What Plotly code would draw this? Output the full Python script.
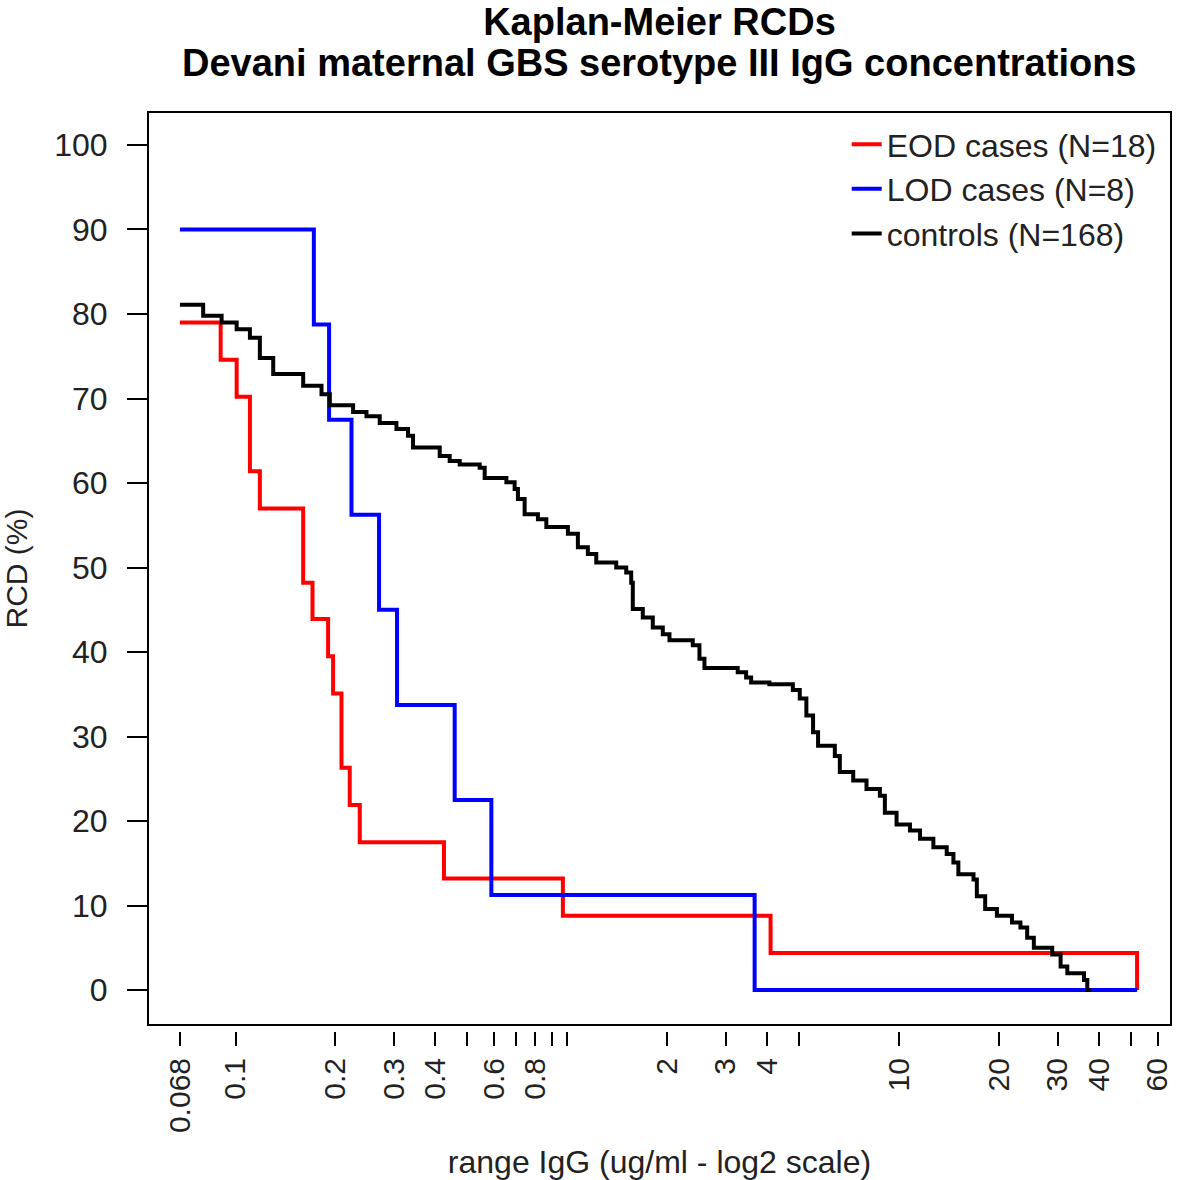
import plotly.graph_objects as go

# ---- data ----
eod_x = [0.068, 0.0902, 0.1008, 0.1105, 0.1184, 0.1599, 0.1706, 0.1901, 0.1968, 0.2086,
         0.2209, 0.2368, 0.4247, 0.9693, 4.095, 52.07]
eod_y = [79.0, 74.6, 70.2, 61.4, 57.0, 48.2, 43.9, 39.5, 35.1, 26.3,
         21.9, 17.5, 13.2, 8.8, 4.4, 0.0]

lod_x = [0.068, 0.1722, 0.1914, 0.2236, 0.2707, 0.3067, 0.4575, 0.5901, 3.666, 52.07]
lod_y = [90.0, 78.75, 67.5, 56.25, 45.0, 33.75, 22.5, 11.25, 0.0, 0.0]

ctrl_x = [0.068, 0.0799, 0.0908, 0.1008, 0.1105, 0.1184, 0.1299, 0.1599, 0.1816, 0.1924,
          0.2261, 0.2481, 0.2720, 0.3054, 0.3310, 0.3427, 0.4124, 0.4419, 0.4737, 0.5441,
          0.5634, 0.6549, 0.6935, 0.7096, 0.7433, 0.8152, 0.8641, 1.0035, 1.0755, 1.1527,
          1.2218, 1.4034, 1.5041, 1.5571, 1.5745, 1.6875, 1.8086, 1.9386, 2.0306, 2.3868,
          2.5000, 2.5883, 3.260, 3.456, 3.578, 4.061, 4.780, 5.014, 5.249, 5.499,
          5.693, 6.395, 6.621, 7.265, 7.967, 8.742, 9.050, 9.814, 10.77, 11.55,
          12.67, 13.90, 14.56, 15.07, 16.74, 17.13, 18.15, 19.69, 21.86, 23.18,
          24.29, 25.44, 28.90, 30.63, 32.09, 36.03, 36.86, 37.75]
ctrl_y = [81.1, 79.8, 79.0, 78.2, 77.2, 74.8, 72.9, 71.5, 70.5, 69.2,
          68.4, 67.9, 67.1, 66.4, 65.6, 64.2, 63.2, 62.6, 62.2, 61.8,
          60.6, 60.1, 59.3, 58.1, 56.3, 55.7, 54.8, 54.0, 52.4, 51.6,
          50.6, 50.0, 49.4, 48.2, 45.1, 44.1, 42.9, 42.1, 41.4, 40.8,
          39.2, 38.1, 37.6, 37.0, 36.4, 36.2, 35.5, 34.5, 32.5, 30.5,
          28.9, 27.7, 25.8, 24.8, 23.8, 23.0, 21.0, 19.6, 18.9, 17.9,
          16.9, 16.1, 15.1, 13.7, 13.1, 11.1, 9.6, 8.8, 8.0, 7.4,
          6.2, 5.0, 4.2, 2.8, 2.0, 1.2, 0.0, 0.0]

series_names = ["EOD cases (N=18)", "LOD cases (N=8)", "controls (N=168)"]
series_colors = ["#FF0000", "#0000FF", "#000000"]

x_tickvals = [0.068, 0.1, 0.2, 0.3, 0.4, 0.5, 0.6, 0.7, 0.8, 0.9, 1, 2, 3, 4, 5,
              10, 20, 30, 40, 50, 60]
x_ticktext = ["0.068", "0.1", "0.2", "0.3", "0.4", "", "0.6", "", "0.8", "", "", "2", "3", "4", "",
              "10", "20", "30", "40", "", "60"]
y_tickvals = [0, 10, 20, 30, 40, 50, 60, 70, 80, 90, 100]

title_line1 = "Kaplan-Meier RCDs"
title_line2 = "Devani maternal GBS serotype III IgG concentrations"

FONT = "Liberation Sans, Arial, sans-serif"
TXT = "#222222"

fig = go.Figure()
for xs, ys, name, col in zip([eod_x, lod_x, ctrl_x], [eod_y, lod_y, ctrl_y],
                             series_names, series_colors):
    fig.add_trace(go.Scatter(x=xs, y=ys, mode="lines", name=name,
                             line=dict(color=col, width=4, shape="hv")))

fig.update_layout(
    width=1178, height=1180,
    margin=dict(l=148, r=5, t=112, b=147),
    plot_bgcolor="white", paper_bgcolor="white",
    font=dict(family=FONT, size=30, color=TXT),
    title=dict(text="<b>" + title_line1 + "</b>",
               x=0.5, xref="paper", xanchor="center", y=1 - 22 / 1180, yref="container",
               yanchor="middle",
               font=dict(family=FONT, size=38, color="#000000")),
    annotations=[dict(text="<b>" + title_line2 + "</b>", xref="paper", yref="paper",
                      x=0.5, y=1 + (112 - 63) / 921, xanchor="center", yanchor="middle",
                      showarrow=False, font=dict(family=FONT, size=38, color="#000000"))],
    legend=dict(x=0.683, y=0.9946, xanchor="left", yanchor="top", bgcolor="rgba(0,0,0,0)",
                font=dict(family=FONT, size=32, color=TXT), tracegroupgap=0),
    xaxis=dict(type="log", range=[-1.2637, 1.8188], anchor="free", position=0,
               tickvals=x_tickvals, ticktext=x_ticktext, tickangle=-90,
               ticks="outside", ticklen=14, tickwidth=1.5, tickcolor="#000000",
               showgrid=False, zeroline=False, showline=False,
               tickfont=dict(family=FONT, size=30, color=TXT),
               title=dict(text="range IgG (ug/ml - log2 scale)", standoff=20,
                          font=dict(family=FONT, size=32, color=TXT))),
    yaxis=dict(range=[-4.13, 103.9], domain=[0.0065, 1],
               tickvals=y_tickvals, ticks="outside", ticklen=20, tickwidth=1.5,
               tickcolor="#000000", showgrid=False, zeroline=False, showline=False,
               ticklabelstandoff=13,
               tickfont=dict(family=FONT, size=32, color=TXT),
               title=dict(text="RCD (%)", standoff=18,
                          font=dict(family=FONT, size=30, color=TXT))),
    shapes=[dict(type="rect", xref="x domain", yref="y domain", x0=0, x1=1, y0=0, y1=1,
                 line=dict(color="#000000", width=2), layer="above")],
)

fig.write_html("out.html", config={"displayModeBar": False},
               post_script="document.body.style.margin='0px';document.body.style.overflow='hidden';")
